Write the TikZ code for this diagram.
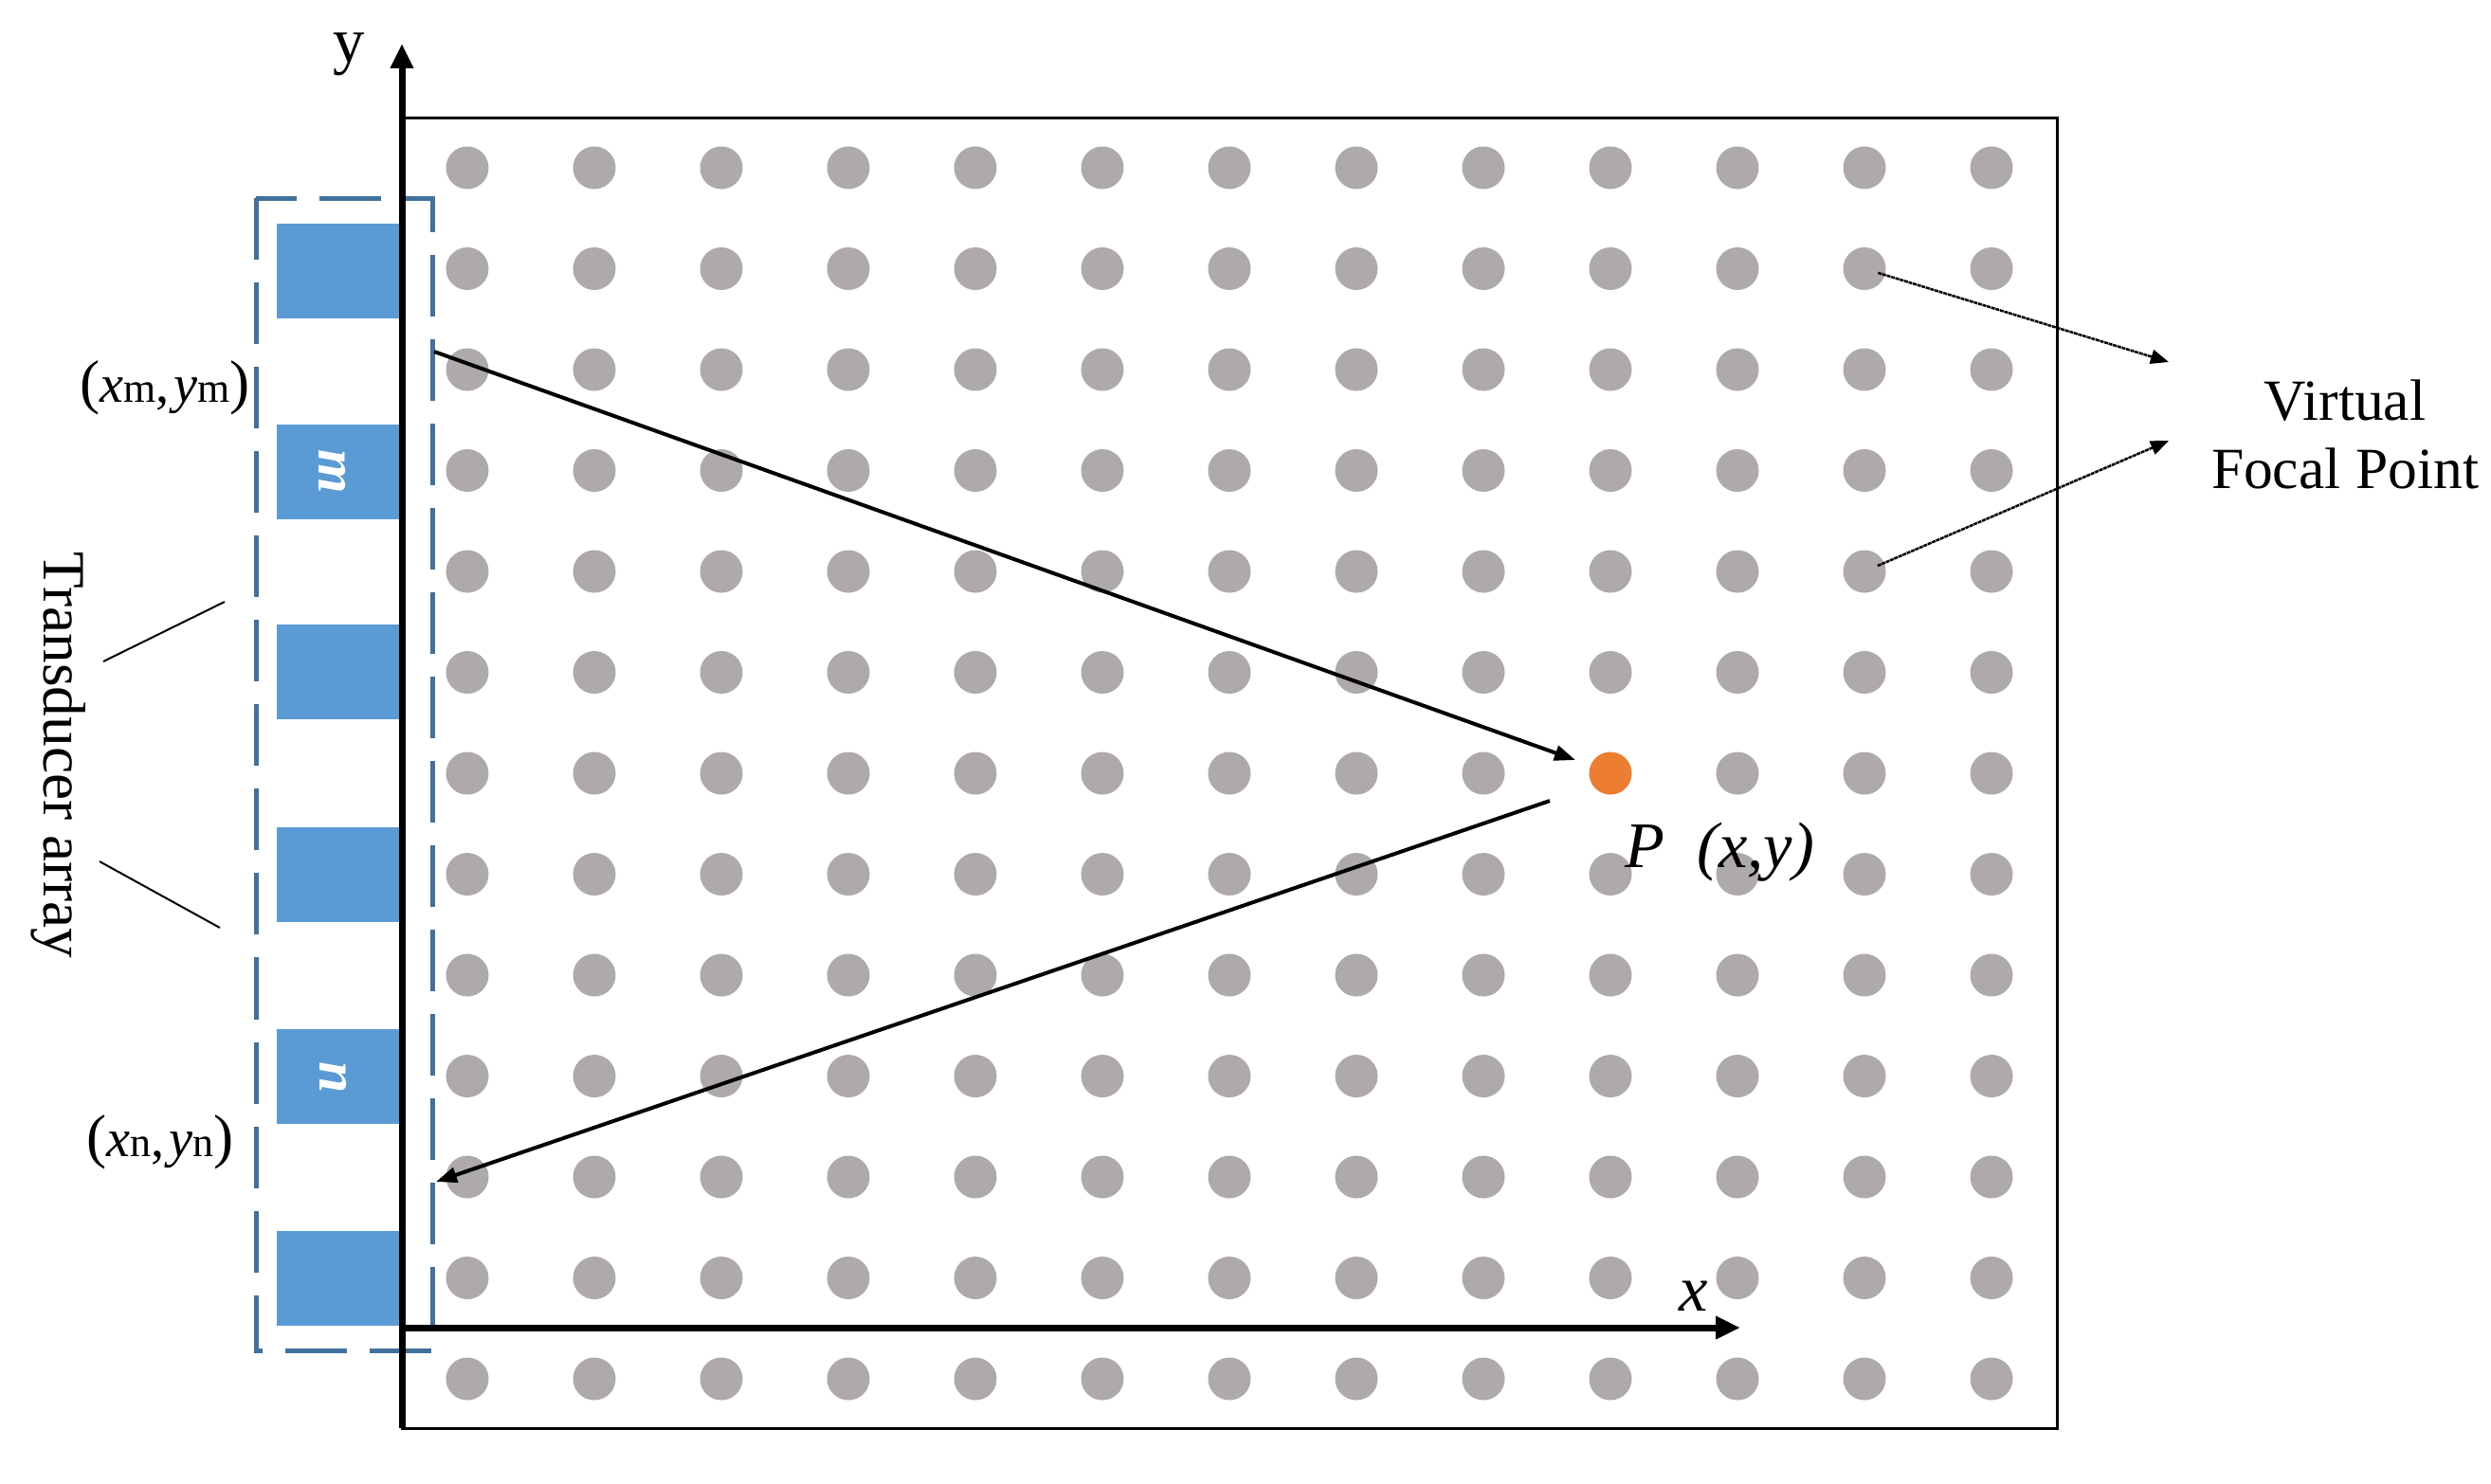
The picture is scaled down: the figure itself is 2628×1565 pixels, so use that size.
\documentclass[tikz,border=0pt]{standalone}
\usepackage{fontspec}
\setmainfont{Liberation Serif}
\usetikzlibrary{arrows.meta}
\definecolor{dotgray}{HTML}{AEAAAA}
\definecolor{elemblue}{HTML}{5B9BD5}
\definecolor{boxblue}{HTML}{41719C}
\definecolor{focal}{HTML}{ED7D31}
\newcommand\cdlabel[1]{{\fontsize{18}{18}\selectfont(}\textit{x}{\fontsize{12.5}{12.5}\selectfont #1},\kern0.08em\textit{y}{\fontsize{12.5}{12.5}\selectfont #1}{\fontsize{18}{18}\selectfont)}}
\begin{document}
\begin{tikzpicture}[x=0.01cm,y=-0.01cm,
  dot/.style={circle,fill=dotgray,minimum size=0.45cm,inner sep=0pt},
  pdot/.style={circle,fill=focal,minimum size=0.45cm,inner sep=0pt},
  elem/.style={rectangle,fill=elemblue,minimum width=1.30cm,minimum height=1.0cm,inner sep=0pt},
  elemlabel/.style={text=white,font=\fontsize{17}{17}\selectfont\bfseries\itshape,rotate=-90,inner sep=0pt},
  frame/.style={draw=black,line width=0.03cm},
  arraybox/.style={draw=boxblue,line width=0.05cm,dash pattern=on 0.65cm off 0.24cm},
  axis/.style={line width=0.07cm,-{Triangle[length=0.26cm,width=0.23cm]}},
  ray/.style={line width=0.04cm,-{Triangle[length=0.22cm,width=0.16cm]}},
  pointer/.style={line width=0.025cm,dash pattern=on 0.04cm off 0.008cm,-{Triangle[length=0.19cm,width=0.15cm]}},
  leader/.style={line width=0.02cm},
  lbl/.style={font=\fontsize{18}{21}\selectfont,inner sep=0pt},
  coordlbl/.style={font=\fontsize{16}{18}\selectfont,inner sep=0pt},
  mathlbl/.style={font=\fontsize{19.5}{19.5}\selectfont\itshape,inner sep=0pt},
]
\useasboundingbox (0,0) rectangle (2628,1565);

% grid of virtual focal points
\foreach \i in {0,...,12}{
  \foreach \j in {0,...,12}{
    \pgfmathtruncatemacro{\isP}{(\i==9)&&(\j==6)}
    \ifnum\isP=0
      \node[dot] (d-\i-\j) at ({493+134*\i},{177+106.5*\j}) {};
    \fi
  }
}
\node[pdot] (P) at ({493+134*9},{177+106.5*6}) {};

% frame
\draw[frame] (424,124) rectangle (2170,1507);

% transducer array box
\draw[arraybox] (270,209) rectangle (456,1425);
\foreach \k/\yy in {1/286,2/498,3/709,4/923,5/1136,6/1349}
  \node[elem] (e\k) at (357,\yy) {};
\node[elemlabel] (lm) at (351,498) {m};
\node[elemlabel] (ln) at (352,1137) {n};

% axes
\coordinate (ybot) at (424,1507);
\coordinate (ytip) at (424,46);
\coordinate (xstart) at (424,1401);
\coordinate (xtip) at (1836,1401);
\draw[axis] (ybot) -- (ytip);
\draw[axis] (xstart) -- (xtip);
\node[font=\fontsize{19}{19}\selectfont,inner sep=0pt] (ylab) at (368,57) {y};
\node[mathlbl] (xlab) at (1787,1368) {x};

% rays
\coordinate (m) at (458,371);
\coordinate (n) at (460,1247);
\coordinate (Pin) at (1662,802);
\coordinate (Pout) at (1635,845);
\draw[ray] (m) -- (Pin);
\draw[ray] (Pout) -- (n);

% labels
\node[coordlbl] (xmym) at (174,409) {\cdlabel{m}};
\node[coordlbl] (xnyn) at (169,1205) {\cdlabel{n}};
\node[mathlbl,anchor=base] (Plab) at (1735,915) {P};
\node[mathlbl,anchor=base] (Pxy) at (1852,915) {(x,y)};

\node[lbl,rotate=-90] (ta) at (62,797) {Transducer array};
\coordinate (t1a) at (109,698);
\coordinate (t1b) at (237,635);
\coordinate (t2a) at (105,909);
\coordinate (t2b) at (232,979);
\draw[leader] (t1a) -- (t1b);
\draw[leader] (t2a) -- (t2b);

\node[lbl,align=center,font=\fontsize{17.5}{20.5}\selectfont] (vfp) at (2474,458) {Virtual\\Focal Point};
\coordinate (v1) at (2288,382);
\coordinate (v2) at (2288,465);
\draw[pointer,shorten <=0.15cm] (d-11-1.center) -- (v1);
\draw[pointer,shorten <=0.15cm] (d-11-4.center) -- (v2);
\end{tikzpicture}
\end{document}
